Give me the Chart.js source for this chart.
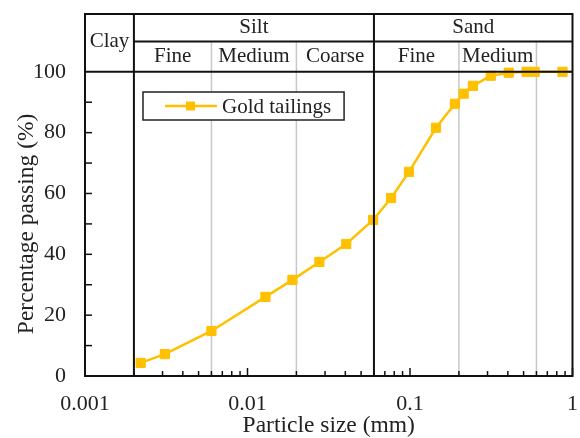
<!DOCTYPE html>
<html>
<head>
<meta charset="utf-8">
<title>Particle size distribution</title>
<script src="https://cdn.jsdelivr.net/npm/chart.js@4.4.0/dist/chart.umd.min.js"></script>
<style>
  html, body { margin: 0; padding: 0; background: #fff; }
  #wrap { width: 580px; height: 438px; }
</style>
</head>
<body>
<div id="wrap"><canvas id="psd-chart" width="580" height="438"></canvas></div>
<script>
// Gradation curve
const particleSize = [0.0022, 0.0031, 0.006, 0.0129, 0.0189, 0.0277, 0.0405, 0.0593, 0.0765, 0.0986,
    0.1445, 0.189, 0.214, 0.244, 0.314, 0.405, 0.522, 0.585, 0.868, 2.0];
const percentPassing = [4.3, 7.2, 14.8, 26.0, 31.6, 37.5, 43.4, 51.3, 58.5, 67.1,
    81.6, 89.5, 92.8, 95.4, 98.7, 99.7, 100, 100, 100, 100];
const seriesName = 'Gold tailings';

// Axis ticks
const xTickValues = [0.001, 0.01, 0.1, 1];
const yTickValues = [0, 20, 40, 60, 80, 100];
const yMinorStep = 10;
const yTop = 119;        // top of the classification header
const headerSplit = 110; // line between main and sub classes

// Soil classification (mm)
const mainClasses = ['Clay', 'Silt', 'Sand'];
const mainEdges = [0.001, 0.002, 0.06, 1];
const subClasses = ['Fine', 'Medium', 'Coarse', 'Fine', 'Medium'];
const subEdges = [[0.002, 0.006], [0.006, 0.02], [0.02, 0.06], [0.06, 0.2], [0.2, 0.6]];
const subLines = [0.006, 0.02, 0.2, 0.6];

(function() {
    'use strict';

    const FONT = '"Liberation Serif", "Times New Roman", serif';
    const TEXT = '#222';
    const GOLD = '#FFC000';

    const hLine = function(ctx, x1, x2, y) {
        ctx.beginPath();
        ctx.moveTo(x1, y);
        ctx.lineTo(x2, y);
        ctx.stroke();
    };
    const vLine = function(ctx, x, y1, y2) {
        ctx.beginPath();
        ctx.moveTo(x, y1);
        ctx.lineTo(x, y2);
        ctx.stroke();
    };

    // Grey sub-class lines behind the curve
    const drawSubLines = function(chart) {
        const { ctx, chartArea: a, scales: { x, y } } = chart;
        const ySplit = y.getPixelForValue(headerSplit);
        ctx.save();
        ctx.strokeStyle = '#c8c8c8';
        ctx.lineWidth = 1.5;
        subLines.forEach(function(v) {
            vLine(ctx, x.getPixelForValue(v), ySplit, a.bottom);
        });
        ctx.restore();
    };

    // Frame, class boundaries, header labels, tick marks, legend
    const drawOverlay = function(chart) {
        const { ctx, chartArea: a, scales: { x, y } } = chart;
        const ySplit = y.getPixelForValue(headerSplit);
        const y100 = y.getPixelForValue(100);

        ctx.save();
        ctx.strokeStyle = '#111';
        ctx.lineWidth = 2;
        ctx.strokeRect(a.left, a.top, a.right - a.left, a.bottom - a.top);
        hLine(ctx, a.left, a.right, y100);
        hLine(ctx, x.getPixelForValue(mainEdges[1]), a.right, ySplit);
        mainEdges.slice(1, -1).forEach(function(v) {
            vLine(ctx, x.getPixelForValue(v), a.top, a.bottom);
        });

        // inward tick marks
        ctx.lineWidth = 1.5;
        for (let d = 0.001; d < 1; d *= 10) {
            for (let m = 2; m <= 10; m++) {
                const px = x.getPixelForValue(d * m);
                vLine(ctx, px, a.bottom, a.bottom - (m === 10 ? 8 : 5));
            }
        }
        for (let v = yMinorStep; v < 100; v += yMinorStep) {
            hLine(ctx, a.left, a.left + 7, y.getPixelForValue(v));
        }

        // header labels
        ctx.fillStyle = TEXT;
        ctx.font = '21px ' + FONT;
        ctx.textAlign = 'center';
        ctx.textBaseline = 'middle';
        mainClasses.forEach(function(name, i) {
            const cx = (x.getPixelForValue(mainEdges[i]) + x.getPixelForValue(mainEdges[i + 1])) / 2;
            const cy = i === 0 ? (a.top + y100) / 2 - 1 : (a.top + ySplit) / 2;
            ctx.fillText(name, cx, cy);
        });
        subClasses.forEach(function(name, i) {
            const cx = (x.getPixelForValue(subEdges[i][0]) + x.getPixelForValue(subEdges[i][1])) / 2;
            ctx.fillText(name, cx, (ySplit + y100) / 2);
        });

        // legend box
        const lx = a.left + 58;
        const ly = a.top + 78;
        const tw = ctx.measureText(seriesName).width;
        const lw = 79 + tw + 13;
        const lh = 28;
        ctx.fillStyle = '#fff';
        ctx.fillRect(lx, ly, lw, lh);
        ctx.strokeStyle = '#222';
        ctx.lineWidth = 1.5;
        ctx.strokeRect(lx, ly, lw, lh);
        ctx.strokeStyle = GOLD;
        ctx.lineWidth = 2.5;
        hLine(ctx, lx + 22, lx + 74, ly + lh / 2);
        ctx.fillStyle = GOLD;
        ctx.fillRect(lx + 43, ly + lh / 2 - 4.5, 9, 9);
        ctx.fillStyle = TEXT;
        ctx.textAlign = 'left';
        ctx.fillText(seriesName, lx + 79, ly + lh / 2 + 1);

        // y axis title, centred on the 0-100 range
        ctx.font = '23.5px ' + FONT;
        ctx.textAlign = 'center';
        ctx.translate(27, (y.getPixelForValue(0) + y100) / 2);
        ctx.rotate(-Math.PI / 2);
        ctx.fillText('Percentage passing (%)', 0, 0);
        ctx.restore();
    };

    const gradationFrame = {
        id: 'gradationFrame',
        beforeDatasetsDraw: drawSubLines,
        afterDatasetsDraw: drawOverlay
    };

    // Fix the axis boxes so the plot area lands where the figure has it
    const fixBox = function(s, size) {
        if (s.isHorizontal()) {
            s.height = size;
        } else {
            s.width = size;
        }
        s.paddingTop = 0;
        s.paddingBottom = 0;
        s.paddingLeft = 0;
        s.paddingRight = 0;
    };

    const ctx = document.getElementById('psd-chart');
    const tickFont = { family: FONT, size: 22 };

    new Chart(ctx, {
        type: 'line',
        data: {
            datasets: [{
                label: seriesName,
                data: particleSize.map(function(v, i) { return { x: v, y: percentPassing[i] }; }),
                borderColor: GOLD,
                backgroundColor: GOLD,
                borderWidth: 2.5,
                pointStyle: 'rect',
                pointRadius: 6.5,
                pointBorderWidth: 1,
                tension: 0,
                clip: 0
            }]
        },
        options: {
            responsive: false,
            animation: false,
            layout: { padding: { top: 14, right: 7, left: 0, bottom: 0 } },
            plugins: {
                legend: { display: false },
                tooltip: { enabled: false }
            },
            scales: {
                x: {
                    type: 'logarithmic',
                    min: 0.001,
                    max: 1,
                    grid: { display: false, drawTicks: false },
                    border: { display: false },
                    afterBuildTicks: function(s) {
                        s.ticks = xTickValues.map(function(v) { return { value: v }; });
                    },
                    afterFit: function(s) { fixBox(s, 62); },
                    ticks: {
                        font: tickFont,
                        color: TEXT,
                        padding: 15,
                        autoSkip: false,
                        maxRotation: 0,
                        callback: function(v) { return String(v); }
                    },
                    title: {
                        display: true,
                        text: 'Particle size (mm)',
                        font: { family: FONT, size: 23.5 },
                        color: TEXT,
                        padding: { top: 0, bottom: -2 }
                    }
                },
                y: {
                    min: 0,
                    max: yTop,
                    grid: { display: false, drawTicks: false },
                    border: { display: false },
                    afterBuildTicks: function(s) {
                        s.ticks = yTickValues.map(function(v) { return { value: v }; });
                    },
                    afterFit: function(s) { fixBox(s, 85); },
                    ticks: {
                        font: tickFont,
                        color: TEXT,
                        padding: 19
                    }
                }
            }
        },
        plugins: [gradationFrame]
    });
})();
</script>
</body>
</html>
